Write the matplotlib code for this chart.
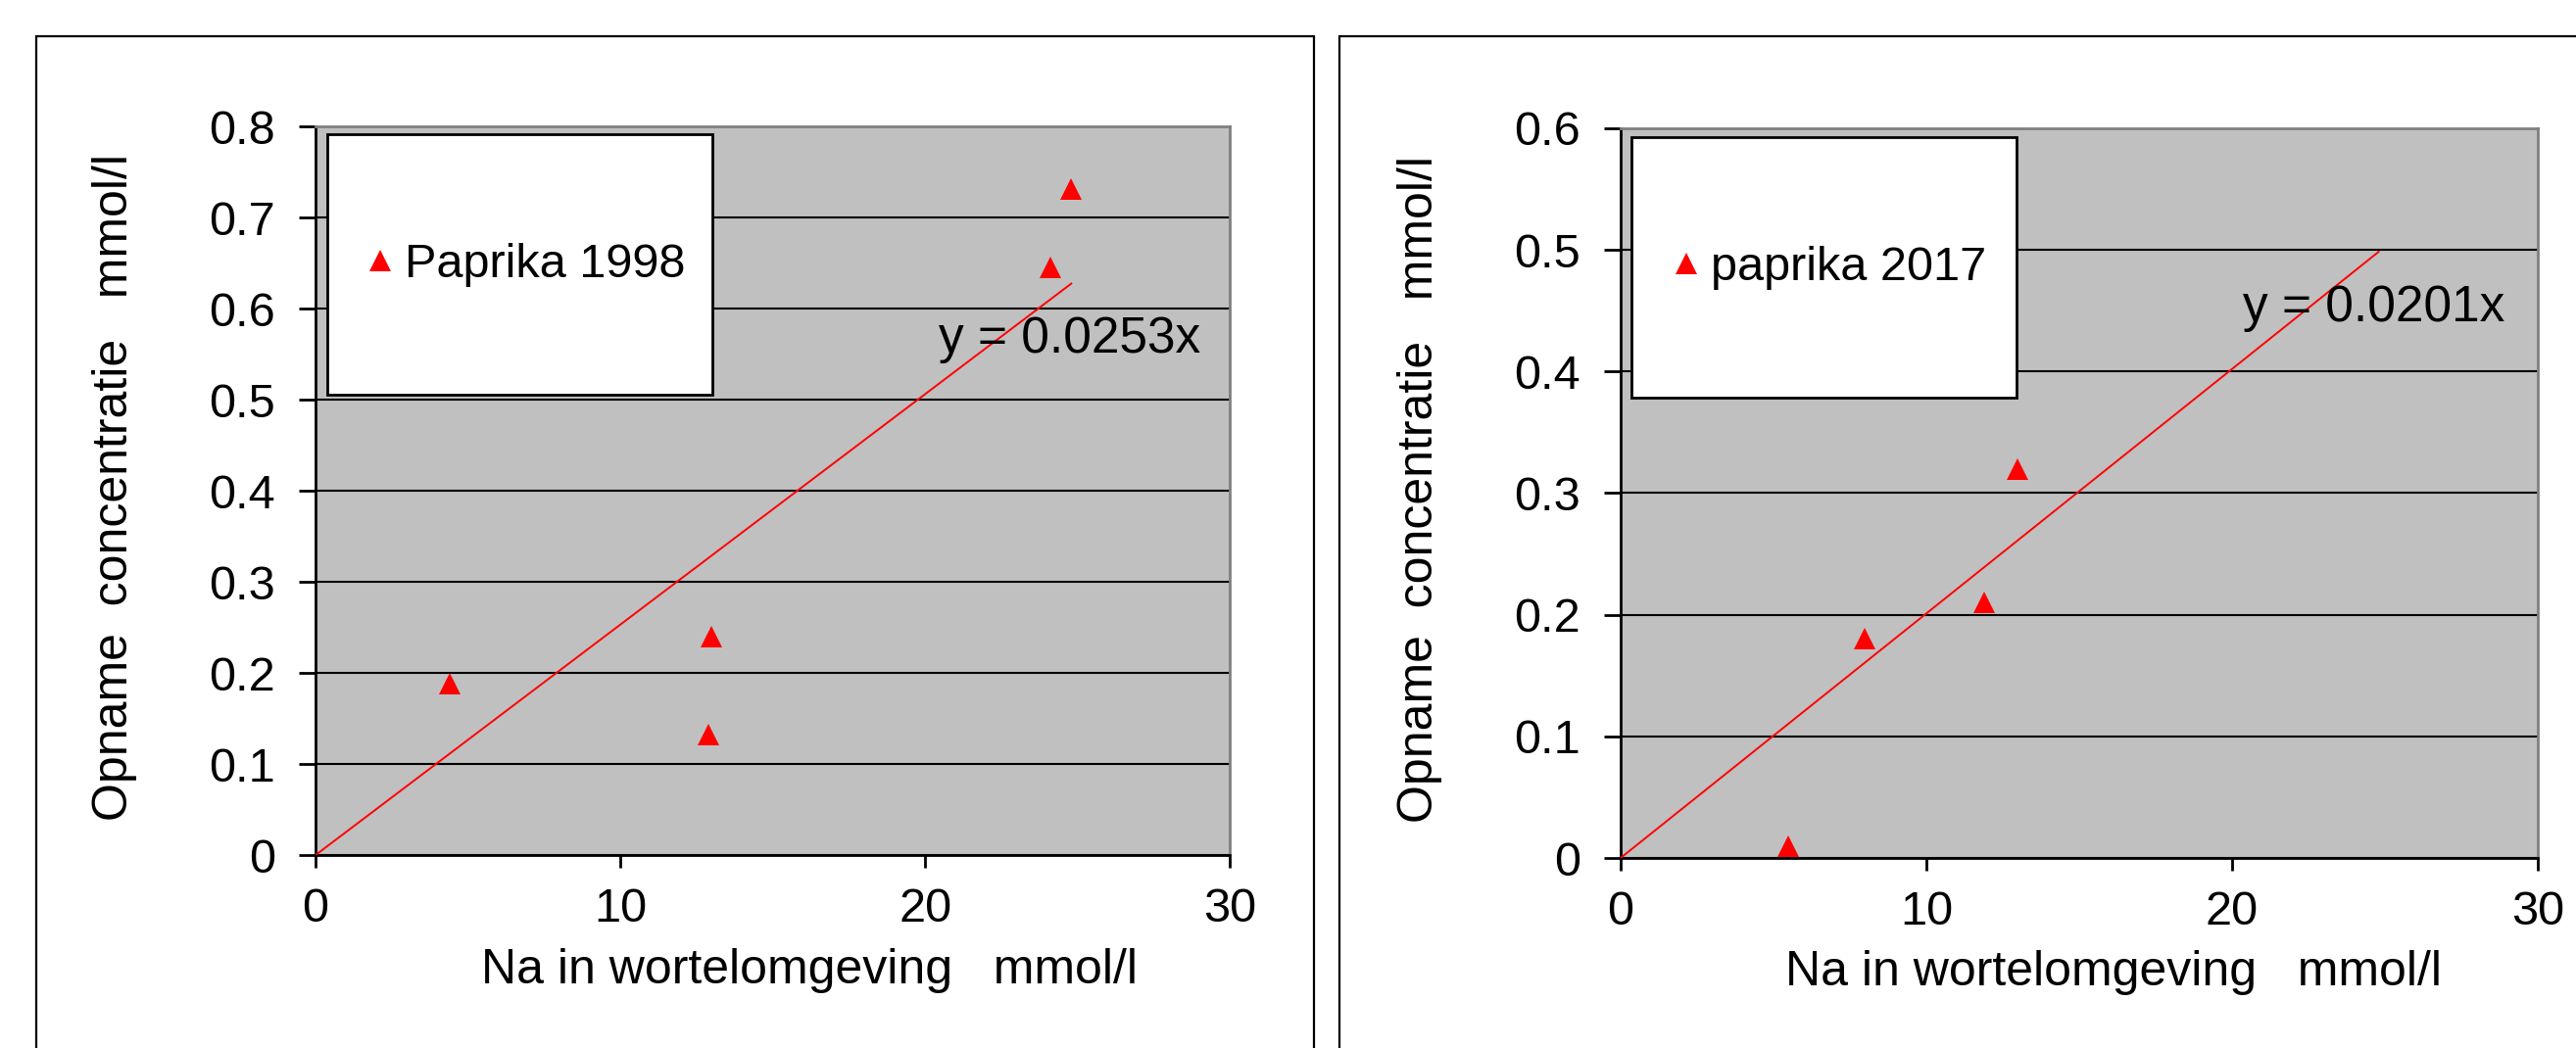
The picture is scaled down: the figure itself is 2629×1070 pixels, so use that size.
import matplotlib
matplotlib.use('Agg')
import matplotlib.pyplot as plt
from matplotlib.patches import Rectangle
from matplotlib.ticker import FuncFormatter

plt.rcParams['font.family'] = ['Liberation Sans', 'DejaVu Sans']

# data
na_1998 = [4.4, 12.9, 13.0, 24.1, 24.8]
up_1998 = [0.188, 0.132, 0.240, 0.645, 0.731]
slope_1998 = 0.0253
line_x_1998 = [0, 24.8]

na_2017 = [5.5, 8.0, 11.9, 13.0]
up_2017 = [0.01, 0.18, 0.21, 0.32]
slope_2017 = 0.0201
line_x_2017 = [0, 24.8]

xlabel = 'Na in wortelomgeving   mmol/l'
ylabel = 'Opname  concentratie   mmol/l'

fig = plt.figure(figsize=(26.29, 10.70), dpi=100)
fig.patch.set_facecolor('white')

# panel frames
fig.patches.append(Rectangle((0.0141, -0.02), 0.496, 0.9854, transform=fig.transFigure,
                             fill=False, edgecolor='black', linewidth=1.6))
fig.patches.append(Rectangle((0.5200, -0.02), 0.49, 0.9854, transform=fig.transFigure,
                             fill=False, edgecolor='black', linewidth=1.6))

panels = [
    dict(rect=[0.1225, 0.1841, 0.3549, 0.6953], x=na_1998, y=up_1998, slope=slope_1998,
         lx=line_x_1998, ymax=0.8, name='Paprika 1998', eq=(20.45, 0.5516),
         box=(0.0129, 0.632, 0.421, 0.357), leg=(0.058, 0.810),
         xl=(0.54, -0.128), yl=(-0.195, 0.505)),
    dict(rect=[0.6291, 0.1813, 0.3560, 0.6963], x=na_2017, y=up_2017, slope=slope_2017,
         lx=line_x_2017, ymax=0.6, name='paprika 2017', eq=(20.35, 0.441),
         box=(0.012, 0.631, 0.420, 0.357), leg=(0.059, 0.809),
         xl=(0.538, -0.126), yl=(-0.194, 0.506)),
]

fs = 35
for p in panels:
    ax = fig.add_axes(p['rect'])
    ax.set_facecolor('#C0C0C0')
    ax.set_xlim(0, 30)
    ax.set_ylim(0, p['ymax'])
    ax.set_xticks([0, 10, 20, 30])
    yt = [i / 10 for i in range(int(round(p['ymax'] * 10)) + 1)]
    ax.set_yticks(yt)
    ax.yaxis.set_major_formatter(FuncFormatter(lambda v, pos: '%g' % round(v, 1)))
    ax.grid(axis='y', color='black', linewidth=1.5)
    ax.set_axisbelow(True)
    for s in ['left', 'bottom']:
        ax.spines[s].set_color('black')
        ax.spines[s].set_linewidth(2.0)
    for s in ['top', 'right']:
        ax.spines[s].set_color('#808080')
        ax.spines[s].set_linewidth(2.0)
    ax.tick_params(axis='both', direction='out', width=2, labelsize=fs)
    ax.tick_params(axis='y', length=12, pad=17.5)
    ax.tick_params(axis='x', length=9.5, pad=14.4)

    ax.plot(p['lx'], [p['slope'] * v for v in p['lx']], color='red', linewidth=1.4, zorder=3)
    ax.plot(p['x'], p['y'], linestyle='none', marker='^', color='red', markersize=16.5,
            markeredgewidth=0, label=p['name'], zorder=4, clip_on=False)
    ax.text(p['eq'][0], p['eq'][1], 'y = %.4fx' % p['slope'], fontsize=37, va='baseline',
            ha='left', zorder=5)

    bx, by, bw, bh = p['box']
    ax.add_patch(Rectangle((bx, by), bw, bh, transform=ax.transAxes, facecolor='white',
                           edgecolor='black', linewidth=2, zorder=6))
    leg = ax.legend(loc='center left', bbox_to_anchor=p['leg'], frameon=False,
                    fontsize=fs, handlelength=0.47, handletextpad=0.29, markerscale=1.0,
                    borderpad=0, borderaxespad=0)
    leg.set_zorder(7)

    ax.set_xlabel(xlabel, fontsize=36)
    ax.set_ylabel(ylabel, fontsize=36)
    ax.xaxis.set_label_coords(*p['xl'])
    ax.yaxis.set_label_coords(*p['yl'])

fig.savefig('out.png', dpi=100)
